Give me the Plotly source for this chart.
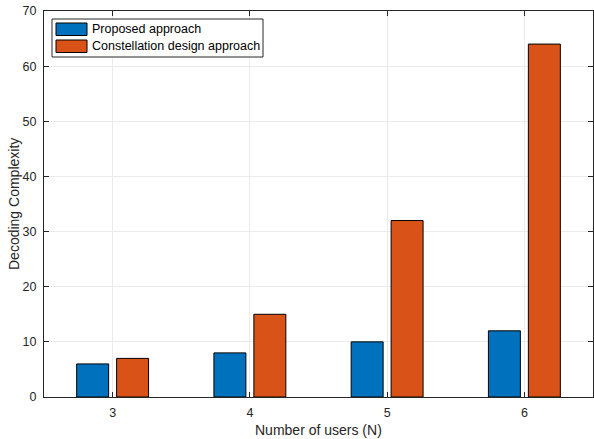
import plotly.graph_objects as go

categories = [3, 4, 5, 6]
proposed = [6, 8, 10, 12]
constellation = [7, 15, 32, 64]
series_names = ["Proposed approach", "Constellation design approach"]
series_colors = ["#0072BD", "#D95319"]
y_ticks = [0, 10, 20, 30, 40, 50, 60, 70]
x_title = "Number of users (N)"
y_title = "Decoding Complexity"

W, H = 594, 439
ML, MR, MT, MB = 44, 1, 11, 42
PW, PH = W - ML - MR, H - MT - MB


def px(x):
    return (x - ML) / PW


def py(y):
    return 1 - (y - MT) / PH


fig = go.Figure()
fig.add_trace(go.Bar(x=categories, y=proposed, name=series_names[0],
                     width=0.233, offset=-0.262, showlegend=False,
                     marker=dict(color=series_colors[0], line=dict(color="black", width=1))))
fig.add_trace(go.Bar(x=categories, y=constellation, name=series_names[1],
                     width=0.233, offset=0.029, showlegend=False,
                     marker=dict(color=series_colors[1], line=dict(color="black", width=1))))

font_color = "#262626"

# custom MATLAB-style legend
shapes = [dict(type="rect", xref="paper", yref="paper",
               x0=px(52), x1=px(263), y0=py(57), y1=py(19),
               line=dict(color=font_color, width=1), fillcolor="white", layer="above")]
annotations = []
rows = [(23, 35.5), (40, 52.5)]
for name, color, (ya, yb) in zip(series_names, series_colors, rows):
    shapes.append(dict(type="rect", xref="paper", yref="paper",
                       x0=px(56), x1=px(87), y0=py(yb), y1=py(ya),
                       line=dict(color="black", width=1), fillcolor=color, layer="above"))
    annotations.append(dict(text=name, xref="paper", yref="paper",
                            x=px(90), y=py((ya + yb) / 2), xanchor="left", yanchor="middle",
                            showarrow=False, font=dict(size=12.5, color="black")))

# axis titles as annotations for precise placement
annotations.append(dict(text=x_title, xref="paper", yref="paper",
                        x=0.5, y=py(430), xanchor="center", yanchor="middle",
                        showarrow=False, font=dict(size=14, color=font_color)))
annotations.append(dict(text=y_title, xref="paper", yref="paper", textangle=-90,
                        x=px(14), y=py(204), xanchor="center", yanchor="middle",
                        showarrow=False, font=dict(size=14, color=font_color)))

fig.update_layout(
    width=W, height=H,
    margin=dict(l=ML, r=MR, t=MT, b=MB),
    paper_bgcolor="white", plot_bgcolor="white",
    barmode="group",
    showlegend=False,
    shapes=shapes, annotations=annotations,
    font=dict(family="Liberation Sans, Arial, sans-serif", size=12.5, color=font_color),
    xaxis=dict(range=[2.5, 6.5], tickvals=categories, ticks="inside", ticklen=5,
               tickcolor=font_color, showline=True, linecolor=font_color, linewidth=1,
               mirror="ticks", showgrid=True, gridcolor="#EBEBEB", zeroline=False,
               ticklabelstandoff=4, tickfont=dict(size=12.5)),
    yaxis=dict(range=[0, 70], tickvals=y_ticks, ticks="inside", ticklen=5,
               tickcolor=font_color, showline=True, linecolor=font_color, linewidth=1,
               mirror="ticks", showgrid=True, gridcolor="#EBEBEB", zeroline=False,
               ticklabelstandoff=4, tickfont=dict(size=12.5)),
)
fig.write_html("out.html", config={"displayModeBar": False},
               post_script="document.body.style.margin='0';")
